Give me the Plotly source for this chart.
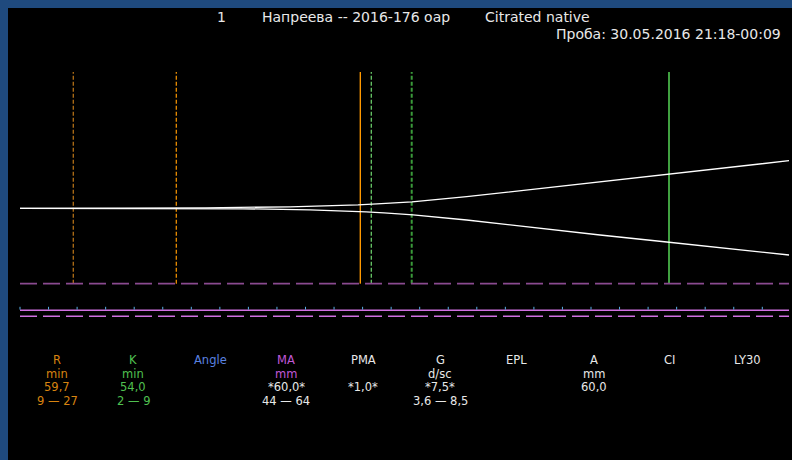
import plotly.graph_objects as go

# ---------------- data ----------------
# time in minutes, deflection from the baseline in mm
upper_t = [0.0, 20.0, 32.57, 47.29, 54.82, 59.19, 62.52, 65.50, 68.65, 78.23, 89.84, 101.58, 113.26, 124.87, 134.68]
upper_mm = [0.0, 0.0, 0.32, 0.95, 1.59, 2.22, 2.85, 3.49, 4.12, 7.36, 12.05, 16.87, 21.56, 26.00, 30.18]
lower_t = [0.0, 20.0, 39.05, 50.79, 56.74, 60.60, 63.75, 66.37, 68.83, 78.23, 89.84, 101.58, 113.26, 124.87, 134.68]
lower_mm = [0.0, 0.0, 0.32, 0.95, 1.59, 2.22, 2.85, 3.49, 4.12, 7.42, 12.30, 16.93, 21.37, 25.81, 29.61]

# marker lines (minutes)
r_ref_low, r_ref_high = 9.33, 27.37
r_value_t = 59.60
k_ref_t = 61.52
k_value_t = 68.60
ci_t = 113.66
trace_end_t = 134.68
tick_times = [5 * i for i in range(27)]

# parameter table
col_names = ["R", "K", "Angle", "MA", "PMA", "G", "EPL", "A", "CI", "LY30"]
col_units = ["min", "min", "", "mm", "", "d/sc", "", "mm", "", ""]
col_values = ["59,7", "54,0", "", "*60,0*", "*1,0*", "*7,5*", "", "60,0", "", ""]
col_ranges = ["9 — 27", "2 — 9", "", "44 — 64", "", "3,6 — 8,5", "", "", "", ""]

header_num = "1"
header_name = "Напреева -- 2016-176 оар"
header_kind = "Citrated native"
header_date = "Проба: 30.05.2016 21:18-00:09"

# ---------------- geometry helpers (pixel -> data) ----------------
PX_PER_MIN = 5.71
PX_PER_MM = 1.577
X0_PX = 20.0
Y0_PX = 208.3
W, H = 792, 460
ML, MT = 8, 8
PW, PH = W - ML, H - MT


def dx(px):
    return (px - X0_PX) / PX_PER_MIN


def dy(py):
    return (Y0_PX - py) / PX_PER_MM


fig = go.Figure()

# trace
fig.add_trace(go.Scatter(x=upper_t, y=upper_mm, mode="lines",
                         line=dict(color="#ffffff", width=1.3), hoverinfo="skip"))
fig.add_trace(go.Scatter(x=lower_t, y=[-v for v in lower_mm], mode="lines",
                         line=dict(color="#ffffff", width=1.3), hoverinfo="skip"))

shapes = []
BLUE = "#1f4a7e"
# black cover for the right / bottom edges, blue frame on the left and top only
shapes.append(dict(type="rect", xref="paper", yref="paper", x0=0, x1=1.05,
                   y0=-0.05, y1=1, fillcolor="#000000", line=dict(width=0), layer="below"))
shapes.append(dict(type="rect", xref="paper", yref="paper", x0=-ML / PW - 0.01, x1=0,
                   y0=-0.05, y1=1 + MT / PH + 0.01, fillcolor=BLUE, line=dict(width=0), layer="below"))
shapes.append(dict(type="rect", xref="paper", yref="paper", x0=-ML / PW - 0.01, x1=1.05,
                   y0=1, y1=1 + MT / PH + 0.01, fillcolor=BLUE, line=dict(width=0), layer="below"))

top_y = dy(72)
bot_y = dy(283.7)


def vline(t, color, width, dash):
    shapes.append(dict(type="line", xref="x", yref="y", x0=t, x1=t, y0=bot_y, y1=top_y,
                       line=dict(color=color, width=width, dash=dash), layer="below"))


vline(r_ref_low, "#c07818", 1.2, "4px,2px")
vline(r_ref_high, "#ff9a00", 1.2, "4px,2px")
vline(r_value_t, "#ff9900", 1.4, "solid")
vline(k_ref_t, "#70d870", 1.2, "4px,2px")
vline(k_value_t, "#3a9a3a", 2.0, "4px,2px")
vline(ci_t, "#40a040", 2.0, "solid")

# horizontal guide lines
shapes.append(dict(type="line", xref="x", yref="y", x0=0, x1=trace_end_t, y0=bot_y, y1=bot_y,
                   line=dict(color="#8a4a90", width=1.8, dash="17px,6px"), layer="below"))
shapes.append(dict(type="line", xref="x", yref="y", x0=0, x1=trace_end_t, y0=dy(310.3), y1=dy(310.3),
                   line=dict(color="#d070e0", width=1.4), layer="below"))
shapes.append(dict(type="line", xref="x", yref="y", x0=0, x1=trace_end_t, y0=dy(316.3), y1=dy(316.3),
                   line=dict(color="#d070e0", width=1.4, dash="17px,6px"), layer="below"))
for t in tick_times:
    shapes.append(dict(type="line", xref="x", yref="y", x0=t, x1=t, y0=dy(309.6), y1=dy(306.8),
                       line=dict(color="#5ab0e8", width=1), layer="below"))

annotations = []
FONT = "DejaVu Sans"


def text(px, py, s, color, size, anchor="center"):
    annotations.append(dict(x=dx(px), y=dy(py), xref="x", yref="y", text=s, showarrow=False,
                            xanchor=anchor, yanchor="middle",
                            font=dict(family=FONT, size=size, color=color)))


HC = "#e8e8e8"
text(221.5, 17, header_num, HC, 14)
text(355.5, 17, header_name, HC, 14)
text(537, 17, header_kind, HC, 14)
text(783, 34, header_date, HC, 14, anchor="right")

col_x = [57, 133, 210, 286, 363, 440, 516, 594, 669, 747]
head_colors = ["#d88410", "#50c050", "#5a82e0", "#c058d8", HC, HC, HC, HC, HC, HC]
row_y = [360.0, 373.6, 387.2, 400.8]
TS = 11.5
for i, cx in enumerate(col_x):
    c = head_colors[i]
    low_c = c if i < 2 else HC
    text(cx, row_y[0], col_names[i], c, TS)
    if col_units[i]:
        text(cx, row_y[1], col_units[i], c, TS)
    if col_values[i]:
        text(cx, row_y[2], col_values[i], low_c, TS)
    if col_ranges[i]:
        text(cx, row_y[3], col_ranges[i], low_c, TS)

x_range = [dx(ML), dx(W)]
y_range = [dy(H), dy(MT)]

fig.update_layout(
    width=W, height=H,
    margin=dict(l=ML, r=0, t=MT, b=0, pad=0, autoexpand=False),
    paper_bgcolor="#000000",
    plot_bgcolor="#000000",
    showlegend=False,
    shapes=shapes,
    annotations=annotations,
    xaxis=dict(range=x_range, visible=False, fixedrange=True),
    yaxis=dict(range=y_range, visible=False, fixedrange=True),
)

fig.write_html("out.html", config={"displayModeBar": False})
